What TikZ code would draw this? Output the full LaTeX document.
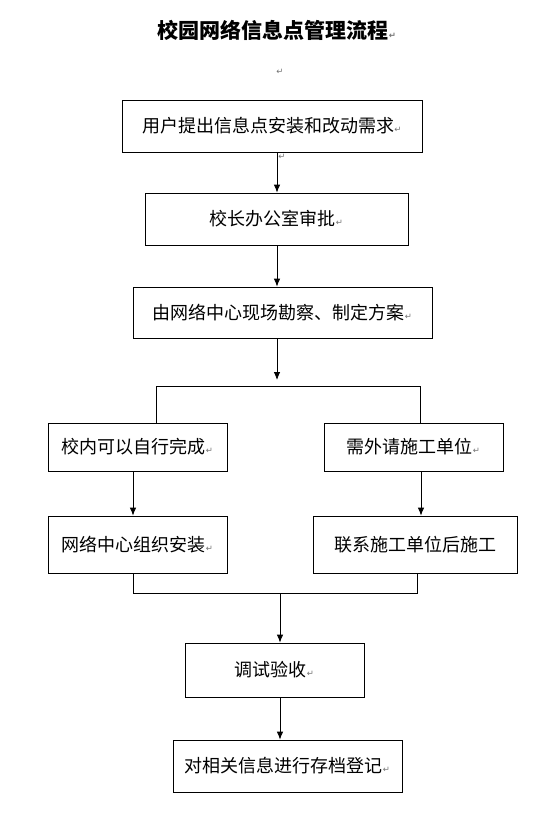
\documentclass[tikz,border=0pt]{standalone}
\usepackage{fontspec}
\setmainfont{Noto Sans CJK SC}
\newfontfamily\symfont{DejaVu Sans}
\usepackage{xcolor}
\usetikzlibrary{calc, positioning, arrows.meta}

% Word paragraph mark
\newcommand{\retmark}{{\symfont\fontsize{8.5}{8.5}\selectfont\textcolor{black!55}{↵}}}

\tikzset{
    box/.style={draw, line width=0.8pt, inner sep=0pt, align=center,
        font=\fontsize{18}{18}\selectfont},
    link/.style={line width=0.8pt},
}

\begin{document}
\begin{tikzpicture}[>={Latex[length=8pt,width=6.5pt]}, x=1pt, y=-1pt]
    \useasboundingbox (0,0) rectangle (555,814);

    % Tiêu đề
    \node[font=\fontsize{21}{21}\selectfont\bfseries] (title) at (277,30) {校园网络信息点管理流程\retmark};
    \node (blank) at (280,72) {\retmark};

    % Các bước chính
    \node[box, minimum width=300, minimum height=52] (b1) at (272,126) {用户提出信息点安装和改动需求\retmark};
    \node (mk1) at (282,157) {\retmark};
    \node[box, minimum width=263, minimum height=52] (b2) at (276.5,219) {校长办公室审批\retmark};
    \node[box, minimum width=299, minimum height=51] (b3) at (282.5,312.5) {由网络中心现场勘察、制定方案\retmark};

    % Hai nhánh
    \node[box, minimum width=179, minimum height=48] (l1) at (137.5,447) {校内可以自行完成\retmark};
    \node[box, minimum width=179, minimum height=48] (r1) at (413.5,447) {需外请施工单位\retmark};
    \node[box, minimum width=179, minimum height=57] (l2) at (137.5,544.5) {网络中心组织安装\retmark};
    \node[box, minimum width=204, minimum height=57] (r2) at (415,544.5) {联系施工单位后施工};

    % Kết thúc
    \node[box, minimum width=179, minimum height=54] (b4) at (274.5,670) {调试验收\retmark};
    \node[box, minimum width=229, minimum height=52] (b5) at (287.5,766) {对相关信息进行存档登记\retmark};

    % Trục nối
    \coordinate (axis) at (277,0);
    \coordinate (split) at (277,380);
    \coordinate (brL) at (156,386);
    \coordinate (brR) at (420,386);
    \coordinate (axL) at (133,0);
    \coordinate (axR) at (421,0);
    \coordinate (jnR) at (417,593);
    \coordinate (mrg) at (280,593);

    % Mũi tên
    \draw[link, ->] (b1.south -| axis) -- (b2.north -| axis);
    \draw[link, ->] (b2.south -| axis) -- (b3.north -| axis);
    \draw[link, ->] (b3.south -| axis) -- (split);
    \draw[link] (brL |- l1.north) -- (brL) -- (brR) -- (brR |- r1.north);
    \draw[link, ->] (l1.south -| axL) -- (l2.north -| axL);
    \draw[link, ->] (r1.south -| axR) -- (r2.north -| axR);
    \draw[link] (l2.south -| axL) |- (jnR) -- (jnR |- r2.south);
    \draw[link, ->] (mrg) -- (b4.north -| mrg);
    \draw[link, ->] (b4.south -| mrg) -- (b5.north -| mrg);
\end{tikzpicture}
\end{document}
